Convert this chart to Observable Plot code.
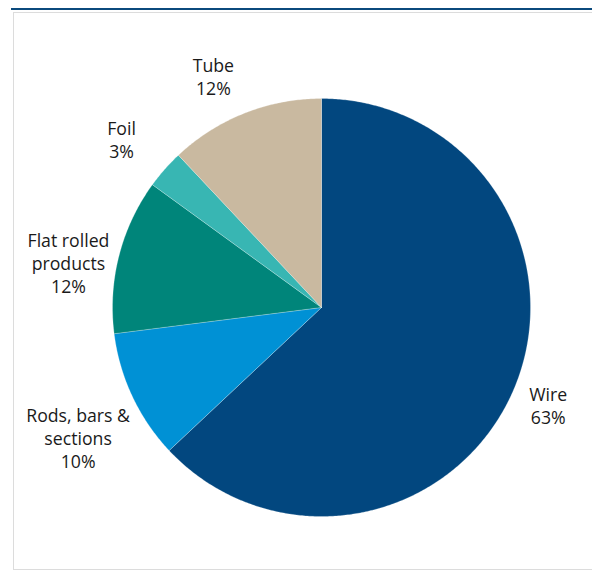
<!DOCTYPE html>
<html>
<head>
<meta charset="utf-8">
<script src="https://cdn.jsdelivr.net/npm/d3@7"></script>
<script src="https://cdn.jsdelivr.net/npm/@observablehq/plot@0.6"></script>
<style>
  html, body { margin: 0; padding: 0; background: #fff; }
  #wrap { position: relative; width: 592px; height: 585px; overflow: hidden; }
  #topline { position: absolute; left: 11px; top: 8px; width: 581px; height: 2px; background: #0b4a7d; }
  #box { position: absolute; left: 13px; top: 12px; width: 600px; height: 558px; border: 1.5px solid #dcdcdc; box-sizing: border-box; }
  #chart { position: absolute; left: 0; top: 0; }
</style>
</head>
<body>
<div id="wrap">
  <div id="topline"></div>
  <div id="box"></div>
  <div id="chart"></div>
</div>
<script>
// Data
const categories = ["Wire", "Rods, bars & sections", "Flat rolled products", "Foil", "Tube"];
const shares = [63, 10, 12, 3, 12];
const labelNames = ["Wire", "Rods, bars &\nsections", "Flat rolled\nproducts", "Foil", "Tube"];
const colors = ["#02477f", "#0091d5", "#00857a", "#38b6b3", "#c9b9a0"];

// Layout (label nudges in pixels)
const labelNudge = [[-13, -6], [-7, 19], [0, 20], [-4, 4], [-12, 12]];

const total = d3.sum(shares);
const slices = [];
const labels = [];
let acc = 0;
categories.forEach((c, i) => {
  const a0 = acc / total * 2 * Math.PI;
  acc += shares[i];
  const a1 = acc / total * 2 * Math.PI;
  const n = Math.max(2, Math.ceil((a1 - a0) / (Math.PI / 360)));
  slices.push({cat: c, x: 0, y: 0});
  for (let k = 0; k <= n; k++) {
    const a = a0 + (a1 - a0) * k / n;
    slices.push({cat: c, x: Math.sin(a), y: Math.cos(a)});
  }
  slices.push({cat: c, x: 0, y: 0});
  const m = (a0 + a1) / 2;
  labels.push({cat: c, text: labelNames[i] + "\n" + shares[i] + "%", x: 1.25 * Math.sin(m), y: 1.25 * Math.cos(m), i});
});

const chart = Plot.plot({
  width: 592,
  height: 585,
  marginLeft: 112,
  marginRight: 62,
  marginTop: 98,
  marginBottom: 69,
  x: {domain: [-1, 1], axis: null},
  y: {domain: [-1, 1], axis: null},
  color: {domain: categories, range: colors},
  style: {background: "transparent", fontFamily: "'Open Sans', sans-serif", fontSize: "17.7px", overflow: "visible"},
  marks: [
    Plot.line(slices, {x: "x", y: "y", z: "cat", fill: "cat", stroke: "#ffffff", strokeWidth: 0.4, strokeOpacity: 0.6, curve: "linear"}),
    ...labels.map(l => Plot.text([l], {
      x: "x", y: "y", text: "text",
      dx: labelNudge[l.i][0], dy: labelNudge[l.i][1],
      fill: "#1a1a1a", fontSize: 17.7, lineHeight: 1.3, textAnchor: "middle", lineAnchor: "middle"
    }))
  ]
});
document.getElementById("chart").appendChild(chart);
</script>
</body>
</html>
